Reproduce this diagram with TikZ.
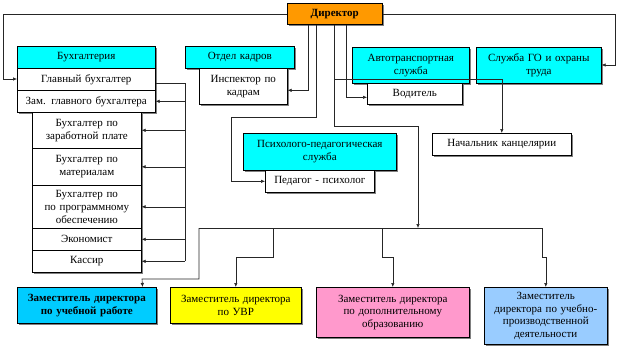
\documentclass[tikz,border=0pt]{standalone}
\usepackage{fontspec}
\setmainfont{Liberation Serif}
\usetikzlibrary{arrows.meta,shadows}
\definecolor{orng}{HTML}{FF9900}
\definecolor{cyn}{HTML}{00FFFF}
\definecolor{sky}{HTML}{00CCFF}
\definecolor{yel}{HTML}{FFFF00}
\definecolor{pnk}{HTML}{FF99CC}
\definecolor{lblue}{HTML}{99CCFF}
\tikzset{
  box/.style={draw=black, line width=0.6pt, fill=white, inner sep=0pt, align=center,
    font=\rmfamily\fontsize{11pt}{12.7pt}\selectfont, anchor=north west,
    drop shadow={shadow xshift=1.5pt, shadow yshift=-1.5pt, fill=black!50, opacity=1}},
  conn/.style={draw=black!85, line width=0.6pt},
  arr/.style={conn, -{Latex[length=4pt,width=3.5pt]}},
}
\newcommand{\bx}[7]{% name, x1, y1, x2, y2, fill, text
  \pgfmathsetmacro{\bw}{#4-#2}\pgfmathsetmacro{\bh}{#5-#3}\pgfmathsetmacro{\tw}{#4-#2-2}%
  \node[box, fill=#6, minimum width=\bw pt, minimum height=\bh pt, text width=\tw pt] (#1) at (#2,#3) {#7};}
\begin{document}
\begin{tikzpicture}[x=1pt,y=-1pt]
\useasboundingbox (0,0) rectangle (621,348);
% boxes
\bx{dir}{287}{3}{382}{24}{orng}{\textbf{Директор}}
\bx{buh}{17}{46}{155}{68}{cyn}{Бухгалтерия}
\bx{gb}{17}{68}{155}{90}{white}{Главный бухгалтер}
\bx{zgb}{17}{90}{155}{112}{white}{Зам. главного бухгалтера}
\bx{bzp}{32}{112}{141}{148}{white}{Бухгалтер по\\заработной плате}
\bx{bm}{32}{148}{141}{185}{white}{Бухгалтер по\\материалам}
\bx{bpo}{32}{185}{141}{228}{white}{Бухгалтер по\\по программному\\обеспечению}
\bx{ec}{32}{228}{141}{250}{white}{Экономист}
\bx{kas}{32}{250}{141}{272}{white}{Кассир}
\bx{ok}{185}{46}{294}{68}{cyn}{Отдел кадров}
\bx{ins}{199}{68}{287}{104}{white}{Инспектор по\\кадрам}
\bx{pps}{243}{133}{396}{170}{cyn}{Психолого-педагогическая\\служба}
\bx{pp}{265}{170}{374}{192}{white}{Педагог - психолог}
\bx{ats}{352}{47}{469}{83}{cyn}{Автотранспортная\\служба}
\bx{vod}{367}{83}{462}{104}{white}{Водитель}
\bx{go}{476}{47}{601}{83}{cyn}{Служба ГО и охраны\\труда}
\bx{nk}{432}{133}{571}{155}{white}{Начальник канцелярии}
\bx{z1}{17}{287}{156}{323}{sky}{\textbf{Заместитель директора}\\\textbf{по учебной работе}}
\bx{z2}{170}{287}{301}{323}{yel}{Заместитель директора\\по УВР}
\bx{z3}{316}{287}{469}{337}{pnk}{Заместитель директора\\по дополнительному\\образованию}
\bx{z4}{484}{287}{607}{344}{lblue}{Заместитель\\директора по учебно-\\производственной\\деятельности}
% helper coordinates
\coordinate (bxl) at (185,0);
\coordinate (bus) at (418,228);
% connectors from director
\draw[arr] (dir.west) -| (3,79) -- (gb.west |- 3,79);
\draw[arr] (dir.east) -| (615,65) -- (go.east |- 615,65);
\draw[arr] ([xshift=21pt]dir.south west) |- ([yshift=-4pt]ins.east);
\draw[arr] ([xshift=29pt]dir.south west) |- (231,117) |- (pp.west);
\draw[arr] ([xshift=47pt]dir.south west) |- (418,126) -- (bus);
\draw[arr] (334,79) -| (nk.north);
\draw[arr] ([xshift=59pt]dir.south west) |- ([yshift=-3.5pt]vod.west);
% accounting bracket
\draw[conn] ([yshift=-4pt]gb.east) -| (bxl |- kas.east);
\foreach \n in {zgb,bzp,bm,bpo,ec,kas}
  \draw[arr] (bxl |- \n.east) -- (\n.east);
% deputies bus
\draw[conn] (199,228) -- (542,228);
\draw[arr] (199,228) |- (142,279) -- ([xshift=-14pt]z1.north east);
\draw[arr] (273,228) |- (z2.north |- 0,257) -- (z2.north);
\draw[arr] (382,228) |- (z3.north |- 0,257) -- (z3.north);
\draw[arr] (542,228) |- (z4.north |- 0,257) -- (z4.north);
\end{tikzpicture}
\end{document}
